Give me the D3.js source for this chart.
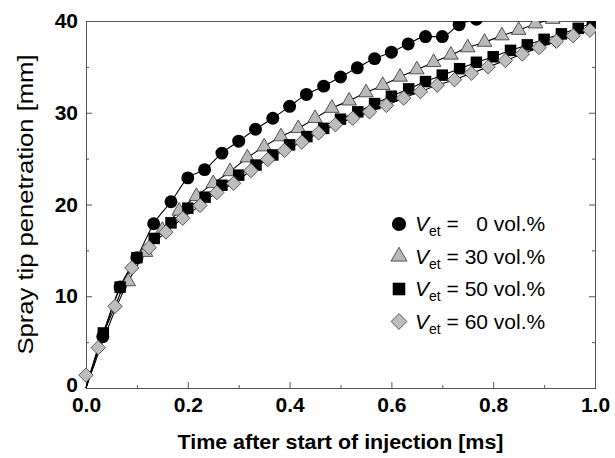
<!DOCTYPE html>
<html>
<head>
<meta charset="utf-8">
<style>
  body { margin: 0; background: #fff; }
  svg text { font-family: "Liberation Sans", Arial, sans-serif; fill: #000; }
  .axis text { font-weight: bold; font-size: 21px; }
  .axis line { stroke: #555; }
  .frame { fill: none; stroke: #555; stroke-width: 1px; }
  .fit { fill: none; stroke: #000; stroke-width: 1.1px; }
  .legend text { font-size: 21px; white-space: pre; }
</style>
</head>
<body>
<svg width="615" height="458"></svg>
<script src="https://d3js.org/d3.v7.min.js"></script>
<script>
// time after start of injection [ms] and penetration [mm]
var t0 = [0.033,0.067,0.100,0.133,0.167,0.200,0.233,0.267,0.300,0.333,0.367,0.400,0.433,0.467,0.500,0.533,0.567,0.600,0.633,0.667,0.700,0.733,0.767];
var v0 = [5.6,11.0,14.2,17.9,20.3,22.9,23.8,25.6,26.9,28.2,29.4,30.7,32.0,32.9,33.9,34.9,35.9,36.6,37.5,38.3,38.3,39.6,40.2];

var t30 = [0.083,0.117,0.150,0.183,0.217,0.250,0.283,0.317,0.350,0.383,0.417,0.450,0.483,0.517,0.550,0.583,0.617,0.650,0.683,0.717,0.750,0.783,0.817,0.850,0.883,0.917];
var v30 = [11.6,14.8,17.2,19.3,20.9,22.3,23.6,25.1,26.3,27.4,28.3,29.4,30.5,31.3,32.2,33.0,33.9,34.7,35.5,36.3,37.1,37.7,38.4,39.0,39.7,40.2];

var t50 = [0.034,0.067,0.100,0.134,0.167,0.200,0.234,0.267,0.300,0.334,0.367,0.400,0.434,0.467,0.500,0.534,0.567,0.600,0.634,0.667,0.700,0.734,0.767,0.800,0.834,0.867,0.900,0.934,0.967,0.995];
var v50 = [6.0,11.0,14.2,16.3,18.0,19.6,20.8,22.1,23.2,24.3,25.4,26.5,27.4,28.3,29.3,30.1,31.0,31.8,32.6,33.4,34.1,34.8,35.5,36.1,36.8,37.4,38.0,38.6,39.2,39.8];

var t60 = [0.000,0.024,0.057,0.090,0.124,0.157,0.190,0.224,0.257,0.290,0.324,0.357,0.390,0.424,0.457,0.490,0.524,0.557,0.590,0.624,0.657,0.690,0.724,0.757,0.790,0.824,0.857,0.890,0.924,0.957,0.990];
var v60 = [1.4,4.4,8.9,13.1,15.3,17.0,18.5,19.9,21.3,22.3,23.7,24.9,25.9,26.8,27.8,28.7,29.4,30.1,30.8,31.6,32.3,33.0,33.6,34.3,35.0,35.7,36.4,37.1,37.8,38.4,39.0];

var ethanol = ["0", "30", "50", "60"];
var xTicks = [0, 0.2, 0.4, 0.6, 0.8, 1.0];
var xMinor = [0.1, 0.3, 0.5, 0.7, 0.9];
var yTicks = [0, 10, 20, 30, 40];
var yMinor = [5, 15, 25, 35];

var series = [
  {t: t0,  v: v0,  shape: d3.symbolCircle,   size: 132, fill: "#000",    stroke: "none", rot: 0},
  {t: t30, v: v30, shape: d3.symbolTriangle, size: 92,  fill: "#b9b9b9", stroke: "#333", rot: 0},
  {t: t50, v: v50, shape: d3.symbolSquare,   size: 132, fill: "#000",    stroke: "none", rot: 0},
  {t: t60, v: v60, shape: d3.symbolSquare,   size: 104, fill: "#bdbdbd", stroke: "#444", rot: 45}
];

var svg = d3.select("svg");
var mLeft = 86, mRight = 595, mTop = 21, mBottom = 388;

var x = d3.scaleLinear().domain([0, 1]).range([mLeft, mRight]);
var y = d3.scaleLinear().domain([0, 40]).range([mBottom, mTop]);

// ticks (inward)
svg.append("g").attr("class", "axis")
    .attr("transform", "translate(0," + mBottom + ")")
    .call(d3.axisBottom(x).tickValues(xTicks).tickFormat(d3.format(".1f")).tickSizeInner(-6).tickSizeOuter(0).tickPadding(9))
    .call(g => g.select(".domain").remove());
svg.append("g").attr("class", "axis")
    .attr("transform", "translate(0," + mBottom + ")")
    .call(d3.axisBottom(x).tickValues(xMinor).tickFormat("").tickSizeInner(-3).tickSizeOuter(0))
    .call(g => g.select(".domain").remove());
svg.append("g").attr("class", "axis")
    .attr("transform", "translate(" + mLeft + ",0)")
    .call(d3.axisLeft(y).tickValues(yTicks).tickSizeInner(-6).tickSizeOuter(0).tickPadding(8))
    .call(g => g.select(".domain").remove())
    .call(g => g.selectAll("text").filter(d => d === 0).attr("dy", "0.15em"));
svg.append("g").attr("class", "axis")
    .attr("transform", "translate(" + mLeft + ",0)")
    .call(d3.axisLeft(y).tickValues(yMinor).tickFormat("").tickSizeInner(-3).tickSizeOuter(0))
    .call(g => g.select(".domain").remove());
svg.append("g").attr("class", "axis")
    .attr("transform", "translate(" + mRight + ",0)")
    .call(d3.axisRight(y).tickValues(yTicks).tickFormat("").tickSizeInner(-6).tickSizeOuter(0))
    .call(g => g.select(".domain").remove());
svg.append("g").attr("class", "axis")
    .attr("transform", "translate(" + mRight + ",0)")
    .call(d3.axisRight(y).tickValues(yMinor).tickFormat("").tickSizeInner(-3).tickSizeOuter(0))
    .call(g => g.select(".domain").remove());

svg.append("rect").attr("class", "frame")
    .attr("x", mLeft + 0.5).attr("y", mTop + 0.5)
    .attr("width", mRight - mLeft).attr("height", mBottom - mTop);

// clip only at top / right
svg.append("clipPath").attr("id", "clip")
  .append("rect").attr("x", 0).attr("y", mTop).attr("width", mRight + 1).attr("height", 458 - mTop);

var plot = svg.append("g").attr("clip-path", "url(#clip)");

var line = d3.line()
    .x(d => x(d[0])).y(d => y(d[1]))
    .curve(d3.curveMonotoneX);

series.forEach(function(s) {
  var pts = [[0, 0]];
  s.t.forEach((t, i) => { if (t > 0) pts.push([t, s.v[i]]); });
  plot.append("path").attr("class", "fit").attr("d", line(pts));
});

series.forEach(function(s) {
  var pts = s.t.map((t, i) => [t, s.v[i]]);
  plot.append("g").selectAll("path")
    .data(pts)
    .enter().append("path")
      .attr("d", d3.symbol().type(s.shape).size(s.size))
      .attr("transform", d => "translate(" + x(d[0]) + "," + y(d[1]) + ") rotate(" + s.rot + ")")
      .attr("fill", s.fill)
      .attr("stroke", s.stroke)
      .attr("stroke-width", 0.8);
});

// legend
var legend = svg.append("g").attr("class", "legend");
var rowY = d3.scalePoint().domain(ethanol).range([224, 321.5]);
series.forEach(function(s, i) {
  var cy = rowY(ethanol[i]);
  legend.append("path")
    .attr("d", d3.symbol().type(s.shape).size(s.size * 1.2))
    .attr("transform", "translate(399," + cy + ") rotate(" + s.rot + ")")
    .attr("fill", s.fill).attr("stroke", s.stroke).attr("stroke-width", 0.8);
  var txt = legend.append("text").attr("x", 415).attr("y", cy + 7);
  txt.append("tspan").style("font-style", "italic").text("V");
  txt.append("tspan").attr("dy", 5).style("font-size", "14px").text("et");
  var num = ethanol[i].length < 2 ? "\u2007" + ethanol[i] : ethanol[i];
  txt.append("tspan").attr("dy", -5).text(" = " + num + " vol.%");
});

// axis titles
svg.append("text")
    .attr("x", (mLeft + mRight) / 2).attr("y", 449)
    .attr("text-anchor", "middle")
    .attr("textLength", 326).attr("lengthAdjust", "spacingAndGlyphs")
    .style("font-weight", "bold").style("font-size", "20px")
    .text("Time after start of injection [ms]");

svg.append("text")
    .attr("transform", "translate(33," + (mTop + mBottom) / 2 + ") rotate(-90)")
    .attr("text-anchor", "middle")
    .attr("textLength", 300).attr("lengthAdjust", "spacingAndGlyphs")
    .style("font-size", "22px")
    .text("Spray tip penetration [mm]");
</script>
</body>
</html>
